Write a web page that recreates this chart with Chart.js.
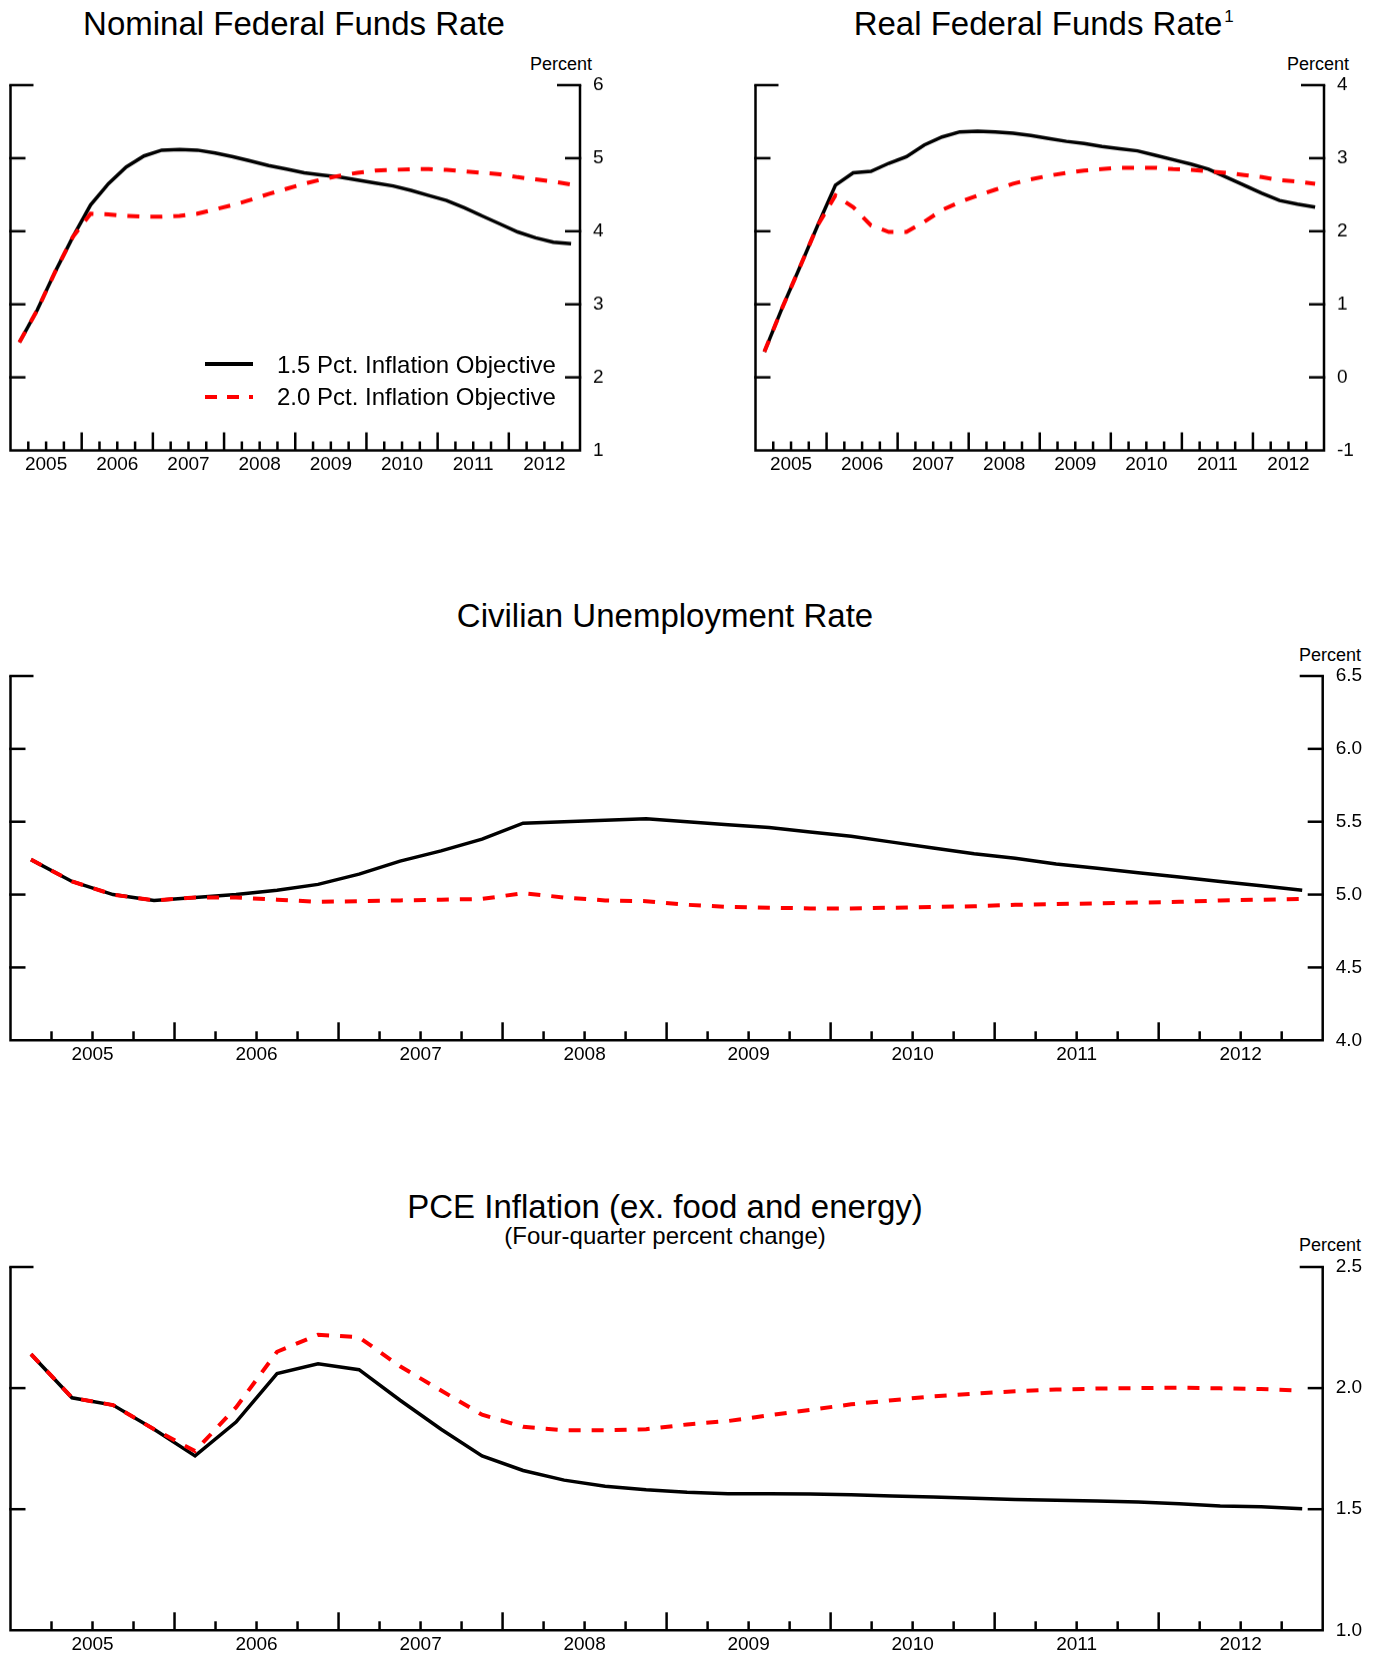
<!DOCTYPE html>
<html>
<head>
<meta charset="utf-8">
<script src="https://cdn.jsdelivr.net/npm/chart.js@4.4.1/dist/chart.umd.min.js"></script>
<style>
  html, body { margin: 0; padding: 0; background: #fff; }
  body { position: relative; width: 1374px; height: 1653px; overflow: hidden; font-family: "Liberation Sans", Arial, Helvetica, sans-serif; color: #000; }
  canvas { position: absolute; }
  .titulo { position: absolute; width: 800px; font-size: 33px; line-height: 33px; text-align: center; white-space: nowrap; }
  .sub { position: absolute; width: 800px; font-size: 24px; line-height: 24px; text-align: center; white-space: nowrap; }
  .pct { position: absolute; width: 200px; font-size: 18px; line-height: 18px; text-align: right; white-space: nowrap; }
  .leg { position: absolute; font-size: 24px; line-height: 24px; white-space: nowrap; }
  .amostra { position: absolute; width: 48px; height: 4px; }
</style>
</head>
<body>

<div class="titulo" style="left:-106px; top:7px;">Nominal Federal Funds Rate</div>
<div class="titulo" style="left:638px; top:7px;"><span style="position:relative;">Real Federal Funds Rate<span style="position:absolute; left:100%; top:3px; margin-left:2px; font-size:17px; line-height:17px;">1</span></span></div>
<div class="titulo" style="left:265px; top:599px;">Civilian Unemployment Rate</div>
<div class="titulo" style="left:265px; top:1190px;">PCE Inflation (ex. food and energy)</div>
<div class="sub" style="left:265px; top:1224px;">(Four-quarter percent change)</div>

<div class="pct" style="left:392px; top:55px;">Percent</div>
<div class="pct" style="left:1149px; top:55px;">Percent</div>
<div class="pct" style="left:1161px; top:646px;">Percent</div>
<div class="pct" style="left:1161px; top:1236px;">Percent</div>

<canvas id="cNominal"></canvas>
<canvas id="cReal"></canvas>
<canvas id="cDesemprego"></canvas>
<canvas id="cPce"></canvas>

<div class="amostra" style="left:205px; top:362px; background:#000;"></div>
<div class="amostra" style="left:205px; top:395px; background:repeating-linear-gradient(to right, #ff0000 0 12px, transparent 12px 22px);"></div>
<div class="leg" style="left:277px; top:353px;">1.5 Pct. Inflation Objective</div>
<div class="leg" style="left:277px; top:385px;">2.0 Pct. Inflation Objective</div>

<script>
const fonte = '"Liberation Sans", Arial, Helvetica, sans-serif';

const anos = ["2005", "2006", "2007", "2008", "2009", "2010", "2011", "2012"];

// trimestres 2005Q1 .. 2012Q4
const nominalBaixa = [2.48, 2.92, 3.44, 3.92, 4.36, 4.65, 4.88, 5.03, 5.11, 5.12, 5.11, 5.07, 5.02, 4.96, 4.90, 4.85,
  4.80, 4.77, 4.74, 4.70, 4.66, 4.62, 4.56, 4.49, 4.42, 4.32, 4.21, 4.10, 3.99, 3.91, 3.85, 3.83];
const nominalAlta = [2.48, 2.92, 3.44, 3.92, 4.24, 4.23, 4.21, 4.20, 4.20, 4.21, 4.24, 4.30, 4.36, 4.43, 4.51, 4.58,
  4.65, 4.71, 4.76, 4.80, 4.83, 4.84, 4.85, 4.85, 4.84, 4.82, 4.80, 4.78, 4.74, 4.71, 4.68, 4.64];

const realBaixa = [0.35, 0.95, 1.51, 2.08, 2.63, 2.80, 2.82, 2.93, 3.02, 3.18, 3.29, 3.36, 3.37, 3.36, 3.34, 3.31,
  3.27, 3.23, 3.20, 3.16, 3.13, 3.10, 3.04, 2.98, 2.92, 2.85, 2.74, 2.63, 2.52, 2.42, 2.37, 2.33];
const realAlta = [0.35, 0.95, 1.51, 2.08, 2.49, 2.33, 2.08, 1.99, 1.99, 2.13, 2.29, 2.40, 2.49, 2.57, 2.65, 2.71,
  2.76, 2.80, 2.83, 2.85, 2.87, 2.87, 2.87, 2.85, 2.84, 2.82, 2.80, 2.77, 2.74, 2.70, 2.68, 2.65];

const desempBaixa = [5.24, 5.09, 5.00, 4.96, 4.98, 5.00, 5.03, 5.07, 5.14, 5.23, 5.30, 5.38, 5.49, 5.50, 5.51, 5.52,
  5.50, 5.48, 5.46, 5.43, 5.40, 5.36, 5.32, 5.28, 5.25, 5.21, 5.18, 5.15, 5.12, 5.09, 5.06, 5.03];
const desempAlta = [5.24, 5.09, 5.00, 4.96, 4.98, 4.98, 4.965, 4.95, 4.955, 4.96, 4.965, 4.97, 5.01, 4.98, 4.96, 4.955,
  4.93, 4.915, 4.91, 4.905, 4.905, 4.91, 4.915, 4.92, 4.93, 4.935, 4.94, 4.945, 4.95, 4.96, 4.965, 4.97];

const pceBaixa = [2.14, 1.96, 1.93, 1.83, 1.72, 1.86, 2.06, 2.10, 2.076, 1.95, 1.83, 1.72, 1.66, 1.62, 1.595, 1.58,
  1.57, 1.564, 1.564, 1.563, 1.56, 1.555, 1.55, 1.545, 1.54, 1.537, 1.534, 1.53, 1.523, 1.513, 1.51, 1.502];
const pceAlta = [2.14, 1.96, 1.93, 1.83, 1.74, 1.92, 2.15, 2.22, 2.21, 2.09, 1.99, 1.89, 1.84, 1.826, 1.826, 1.83,
  1.85, 1.864, 1.888, 1.91, 1.933, 1.95, 1.966, 1.977, 1.987, 1.994, 1.998, 2.00, 2.002, 1.999, 1.996, 1.99];

// folga acima da area do grafico (cobre o padding que o eixo y reserva p/ o rotulo do topo)
const folgaTopo = 36;

// eixo x: um trimestre por unidade, ponto no meio do trimestre
function pontos(serie) {
  return serie.map((v, i) => ({ x: i + 0.5, y: v }));
}

function traco(ctx, x1, y1, x2, y2) {
  ctx.beginPath();
  ctx.moveTo(x1, y1);
  ctx.lineTo(x2, y2);
  ctx.stroke();
}

// moldura com marcas para dentro, como no original
const moldura = {
  id: "moldura",
  beforeDatasetsDraw(chart) {
    const { ctx, chartArea: a } = chart;
    const x = chart.scales.x;
    const y = chart.scales.y;
    ctx.save();
    ctx.strokeStyle = "#000";
    ctx.lineWidth = 2.5;
    ctx.lineJoin = "miter";
    ctx.beginPath();
    ctx.moveTo(a.left, a.top);
    ctx.lineTo(a.left, a.bottom);
    ctx.lineTo(a.right, a.bottom);
    ctx.lineTo(a.right, a.top);
    ctx.stroke();

    y.ticks.forEach(t => {
      if (t.value === y.min) return;
      const py = y.getPixelForValue(t.value);
      const len = t.value === y.max ? 23 : 15;
      traco(ctx, a.left - 1.25, py, a.left + len, py);
      traco(ctx, a.right - len, py, a.right + 1.25, py);
    });

    for (let q = 1; q < x.max; q++) {
      const px = x.getPixelForValue(q);
      traco(ctx, px, a.bottom, px, a.bottom - (q % 4 === 0 ? 18 : 9));
    }
    ctx.restore();
  }
};

function montar(id, area, faixa, yw, eixoY, baixa, alta) {
  const canvas = document.getElementById(id);
  const topo = area.top - folgaTopo;
  const largura = faixa[1] - faixa[0];
  const altura = area.bottom - area.top + folgaTopo + 40;
  canvas.width = largura;
  canvas.height = altura;
  canvas.style.left = faixa[0] + "px";
  canvas.style.top = topo + "px";
  canvas.style.width = largura + "px";
  canvas.style.height = altura + "px";

  const chart = new Chart(canvas, {
    type: "line",
    data: {
      datasets: [
        {
          label: "1.5 Pct. Inflation Objective",
          data: pontos(baixa),
          borderColor: "#000",
          borderWidth: 3.5,
          pointRadius: 0,
          tension: 0,
          order: 2
        },
        {
          label: "2.0 Pct. Inflation Objective",
          data: pontos(alta),
          borderColor: "#ff0000",
          borderWidth: 4,
          borderDash: [12, 11],
          pointRadius: 0,
          tension: 0,
          order: 1
        }
      ]
    },
    options: {
      responsive: false,
      animation: false,
      devicePixelRatio: 1,
      layout: {
        padding: {
          left: area.left - faixa[0],
          right: faixa[1] - area.right - yw,
          top: folgaTopo,
          bottom: 10
        }
      },
      plugins: {
        legend: { display: false },
        tooltip: { enabled: false }
      },
      scales: {
        x: {
          type: "linear",
          min: 0,
          max: 32,
          grid: { display: false, drawTicks: false },
          border: { display: false },
          afterBuildTicks: s => {
            s.ticks = anos.map((_, k) => ({ value: 4 * k + 2 }));
          },
          afterFit: s => {
            s.height = 30;
          },
          ticks: {
            color: "#000",
            font: { family: fonte, size: 19 },
            padding: 3,
            maxRotation: 0,
            autoSkip: false,
            callback: v => anos[(v - 2) / 4]
          }
        },
        y: {
          position: "right",
          min: eixoY.min,
          max: eixoY.max,
          grid: { display: false, drawTicks: false },
          border: { display: false },
          afterFit: s => {
            s.width = yw;
          },
          ticks: {
            stepSize: eixoY.passo,
            color: "#000",
            font: { family: fonte, size: 19 },
            padding: 13,
            callback: v => eixoY.casas ? v.toFixed(eixoY.casas) : String(v)
          }
        }
      }
    },
    plugins: [moldura]
  });

  // acerta a area do grafico para cair exatamente onde o original desenha
  const alvo = {
    left: area.left - faixa[0],
    right: area.right - faixa[0],
    top: folgaTopo,
    bottom: area.bottom - topo
  };
  for (let passo = 0; passo < 2; passo++) {
    const a = chart.chartArea;
    const p = chart.options.layout.padding;
    p.top += alvo.top - a.top;
    p.left += alvo.left - a.left;
    p.right += a.right - alvo.right;
    p.bottom += a.bottom - alvo.bottom;
    chart.update();
  }
  return chart;
}

montar("cNominal", { left: 10.5, top: 85, right: 580, bottom: 449.5 }, [0, 687], 50,
  { min: 1, max: 6, passo: 1, casas: 0 }, nominalBaixa, nominalAlta);
montar("cReal", { left: 755.5, top: 85, right: 1324, bottom: 449.5 }, [687, 1374], 45,
  { min: -1, max: 4, passo: 1, casas: 0 }, realBaixa, realAlta);
montar("cDesemprego", { left: 10.5, top: 675.7, right: 1322.7, bottom: 1040 }, [0, 1374], 45,
  { min: 4, max: 6.5, passo: 0.5, casas: 1 }, desempBaixa, desempAlta);
montar("cPce", { left: 10.5, top: 1266.7, right: 1322.7, bottom: 1630 }, [0, 1374], 45,
  { min: 1, max: 2.5, passo: 0.5, casas: 1 }, pceBaixa, pceAlta);
</script>
</body>
</html>
